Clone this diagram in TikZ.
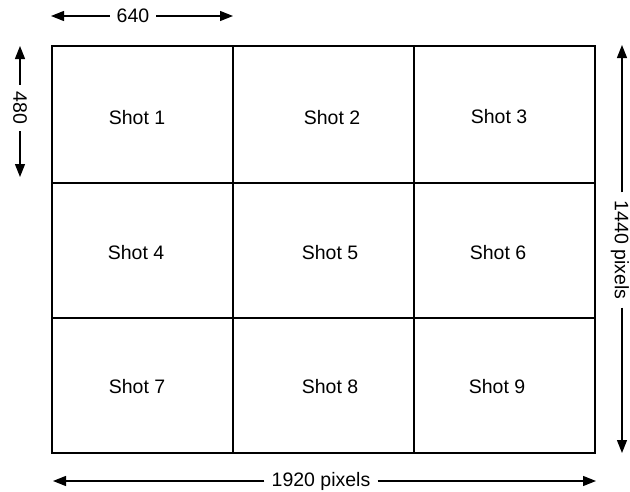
\documentclass[tikz,border=0pt]{standalone}
\usepackage{fontspec}
\setmainfont{Liberation Sans}
\usetikzlibrary{arrows.meta}
\begin{document}
\begin{tikzpicture}[x=1pt,y=-1pt,
  gridline/.style={line width=1.6pt, line join=miter},
  dimline/.style={line width=1.3pt, -{Triangle[length=13pt,width=10pt]}},
  shot/.style={font=\fontsize{19.5}{22}\selectfont, inner sep=0pt},
  dimlabel/.style={font=\fontsize{19.5}{22}\selectfont, inner xsep=7pt, inner ysep=0pt}
]
\useasboundingbox (0,0) rectangle (630,491);
% grid
\draw[gridline] (52,46) rectangle (595,453);
\draw[gridline] (233,46) -- (233,453);
\draw[gridline] (414,46) -- (414,453);
\draw[gridline] (52,183) -- (595,183);
\draw[gridline] (52,318) -- (595,318);
% shots
\node[shot] (s1) at (137,118) {Shot 1};
\node[shot] (s2) at (332,118) {Shot 2};
\node[shot] (s3) at (499,117) {Shot 3};
\node[shot] (s4) at (136,253) {Shot 4};
\node[shot] (s5) at (330,253) {Shot 5};
\node[shot] (s6) at (498,253) {Shot 6};
\node[shot] (s7) at (137,387) {Shot 7};
\node[shot] (s8) at (330,387) {Shot 8};
\node[shot] (s9) at (497,387) {Shot 9};
% top dimension
\coordinate (tL) at (51,16);
\coordinate (tR) at (233,16);
\node[dimlabel] (t) at (133,16) {640};
\draw[dimline] (t.west) -- (tL);
\draw[dimline] (t.east) -- (tR);
% left dimension
\coordinate (lT) at (20,46);
\coordinate (lB) at (20,177);
\node[dimlabel, rotate=-90] (l) at (20,108) {480};
\draw[dimline] (l.west) -- (lT);
\draw[dimline] (l.east) -- (lB);
% right dimension
\coordinate (rT) at (622,45);
\coordinate (rB) at (622,453);
\node[dimlabel, rotate=-90] (r) at (620,250) {1440 pixels};
\draw[dimline] (rT |- r.west) ++(0,-1) coordinate (rw) (rw) -- (rT);
\draw[dimline] (rB |- r.east) ++(0,1) coordinate (re) (re) -- (rB);
% bottom dimension
\coordinate (bL) at (53,481);
\coordinate (bR) at (596,481);
\node[dimlabel] (b) at (321,481) {1920 pixels};
\draw[dimline] (b.west) -- (bL);
\draw[dimline] (b.east) -- (bR);
\end{tikzpicture}
\end{document}
